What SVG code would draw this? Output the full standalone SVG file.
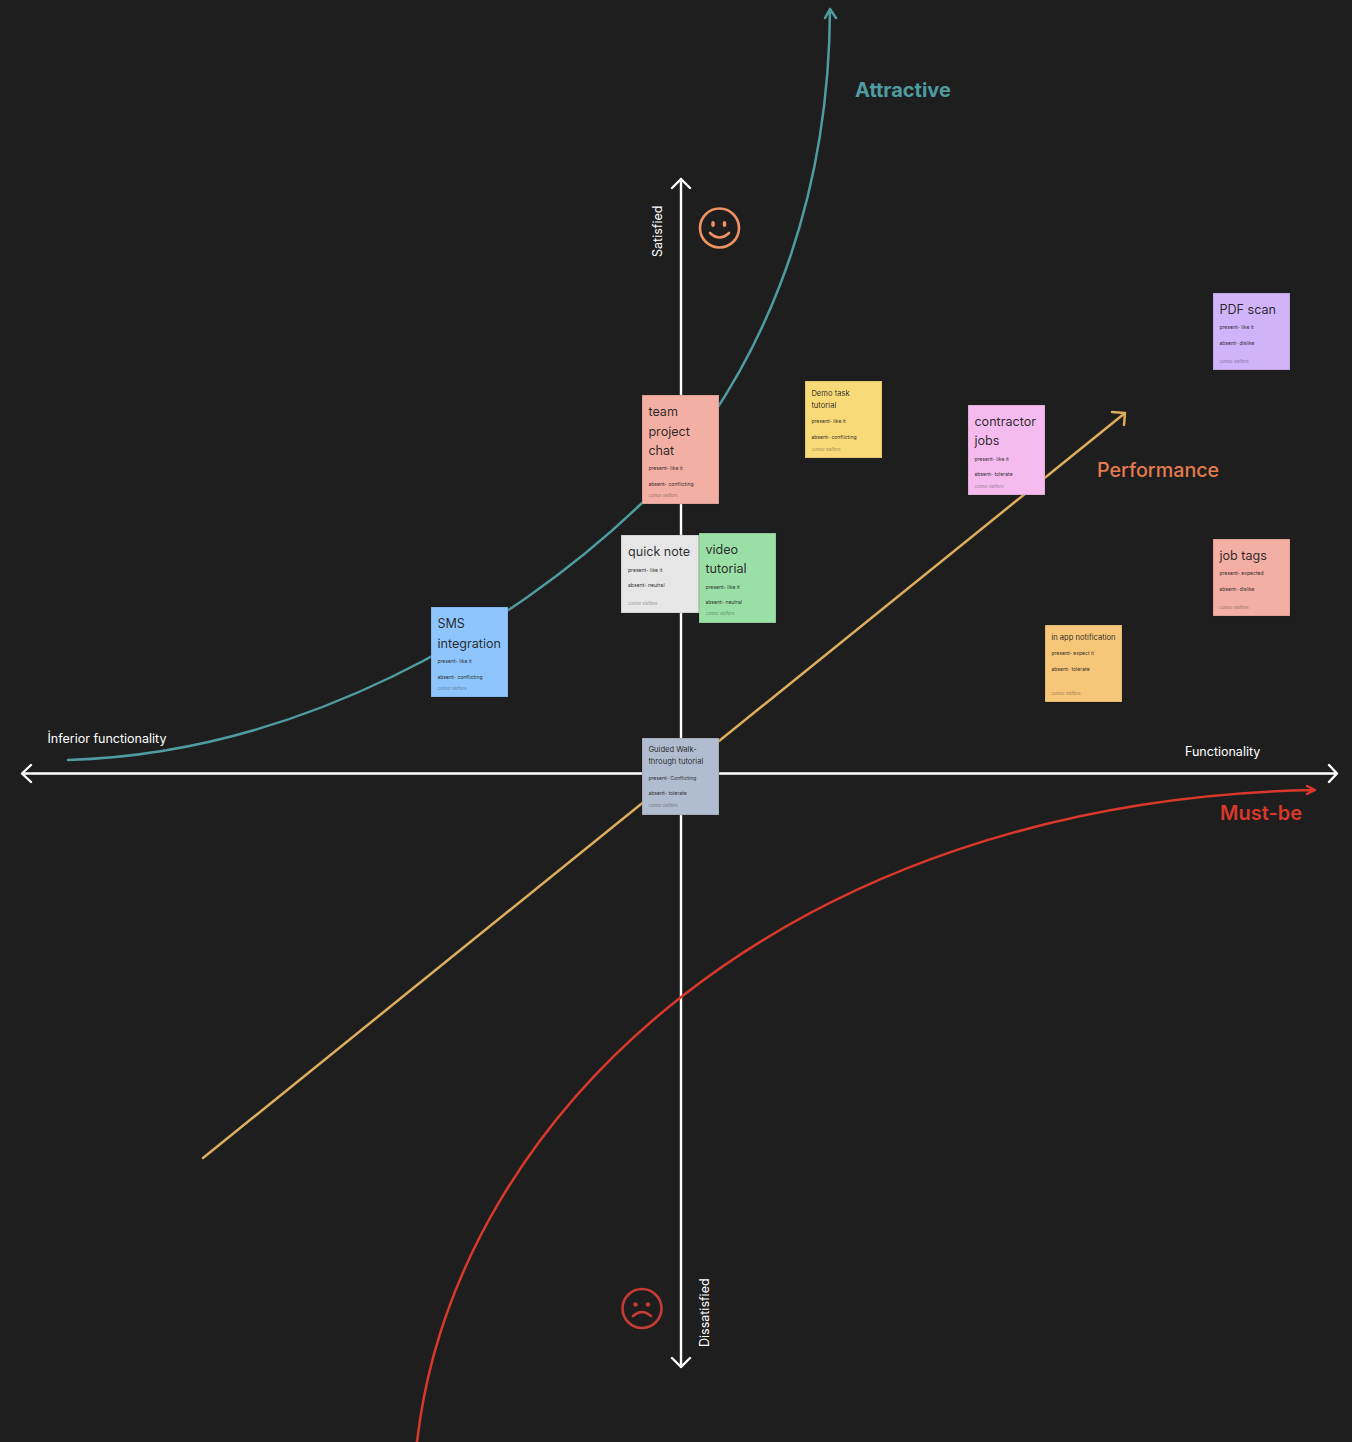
<svg xmlns="http://www.w3.org/2000/svg" width="1352" height="1442" viewBox="0 0 1352 1442">
<style>
text{font-family:Inter,"Liberation Sans",sans-serif}
.ax{fill:none;stroke:#fff;stroke-width:2.400;stroke-linecap:round;stroke-linejoin:round}
.lb{font-size:12.500px;fill:#fff}
.big{font-size:20px;font-weight:600}
.t{font-size:12.600px;fill:#1e1e1e;fill-opacity:.95}
.m{font-size:7.600px;fill:#1e1e1e;fill-opacity:.95}
.s{font-size:5.100px;fill:#1e1e1e;fill-opacity:.95}
.a{font-size:3.800px;fill:#1e1e1e;fill-opacity:.5}
.n{stroke:#1e1e1e;stroke-opacity:.3;stroke-width:.6}
</style>
<rect width="1352" height="1442" fill="#1e1e1e"/>
<g id="connectors">
<path class="ax" d="M22 773.500H1337M31 765L22 773.500L31 782M1329 765L1337 773.500L1329 782"/>
<path class="ax" d="M681 179V1367M672 188L681 179L690 188M672 1358L681 1367L690 1358"/>
<path d="M68 760C300 753 510 630 642 503C760 380 829 210 830 9M825 18L830 9L836 18" fill="none" stroke="#4f9ca0" stroke-width="2.500" stroke-linecap="round" stroke-linejoin="round"/>
<path d="M203 1158L1125 413M1112 412L1125 413L1124 425" fill="none" stroke="#dcad5c" stroke-width="2.500" stroke-linecap="round" stroke-linejoin="round"/>
<path d="M417 1442C455 1110 790 800 1315 790M1307 786L1315 790L1307 794" fill="none" stroke="#d9382a" stroke-width="2.500" stroke-linecap="round" stroke-linejoin="round"/>
</g>
<g id="labels">
<text class="lb" x="47.500" y="743">İnferior functionality</text>
<text class="lb" x="1185" y="755.500">Functionality</text>
<text class="lb" transform="translate(661.500 257) rotate(-90)">Satisfied</text>
<text class="lb" transform="translate(709 1347) rotate(-90)">Dissatisfied</text>
<text class="big" x="855" y="97" fill="#4f9ca0" style="font-weight:700">Attractive</text>
<text class="big" x="1097" y="477" fill="#e57b4e" style="font-weight:500;font-size:19.700px">Performance</text>
<text class="big" x="1220" y="820" fill="#d9382a">Must-be</text>
</g>
<g id="smile" fill="none" stroke="#ee9263" stroke-width="2.600" stroke-linecap="round">
<circle cx="719.500" cy="228" r="19.500"/>
<path d="M710 233Q719.500 242 729 233"/>
<ellipse cx="713" cy="224" rx="1.800" ry="3" fill="#ee9263" stroke="none"/>
<ellipse cx="724.500" cy="224" rx="1.800" ry="3" fill="#ee9263" stroke="none"/>
</g>
<g id="frown" fill="none" stroke="#c43c35" stroke-width="2.600" stroke-linecap="round">
<circle cx="642" cy="1308.500" r="19.500"/>
<path d="M633 1316Q642 1308 651 1316"/>
<circle cx="635.500" cy="1304.500" r="2.300" fill="#c43c35" stroke="none"/>
<circle cx="648" cy="1304.500" r="2.300" fill="#c43c35" stroke="none"/>
</g>
<g id="node-team"><rect class="n" x="642" y="395" width="77" height="109" fill="#f3afa3"/>
<text class="t" x="648.400" y="416">team</text><text class="t" x="648.400" y="436">project</text><text class="t" x="648.400" y="455">chat</text>
<text class="s" x="648.400" y="470">present-  like it</text><text class="s" x="648.400" y="486">absent- conflicting</text><text class="a" x="648.400" y="497">Connor Steffens</text></g>
<g id="node-sms"><rect class="n" x="431" y="607" width="77" height="90" fill="#8ec5fc"/>
<text class="t" x="437.400" y="628">SMS</text><text class="t" x="437.400" y="648">integration</text>
<text class="s" x="437.400" y="663">present-  like it</text><text class="s" x="437.400" y="679">absent- conflicting</text><text class="a" x="437.400" y="690">Connor Steffens</text></g>
<g id="node-quick"><rect class="n" x="621" y="535" width="78" height="78" fill="#e6e6e6"/>
<text class="t" x="628" y="556">quick note</text>
<text class="s" x="628" y="572">present- like it</text><text class="s" x="628" y="587">absent- neutral</text><text class="a" x="628" y="605">Connor Steffens</text></g>
<g id="node-video"><rect class="n" x="699" y="533" width="77" height="90" fill="#9adfa6"/>
<text class="t" x="705.400" y="554">video</text><text class="t" x="705.400" y="573">tutorial</text>
<text class="s" x="705.400" y="589">present- like it</text><text class="s" x="705.400" y="604">absent- neutral</text><text class="a" x="705.400" y="615">Connor Steffens</text></g>
<g id="node-guided"><rect class="n" x="642" y="738" width="77" height="77" fill="#b0bccf"/>
<text class="m" x="648.400" y="752">Guided Walk-</text><text class="m" x="648.400" y="764">through tutorial</text>
<text class="s" x="648.400" y="780">present- Conflicting</text><text class="s" x="648.400" y="795">absent- tolerate</text><text class="a" x="648.400" y="807">Connor Steffens</text></g>
<g id="node-demo"><rect class="n" x="805" y="381" width="77" height="77" fill="#f9da78"/>
<text class="m" x="811.400" y="396">Demo task</text><text class="m" x="811.400" y="408">tutorial</text>
<text class="s" x="811.400" y="423">present- like it</text><text class="s" x="811.400" y="439">absent- conflicting</text><text class="a" x="811.400" y="451">Connor Steffens</text></g>
<g id="node-contractor"><rect class="n" x="968" y="405" width="77" height="90" fill="#f5bbef"/>
<text class="t" x="974.400" y="426">contractor</text><text class="t" x="974.400" y="445">jobs</text>
<text class="s" x="974.400" y="461">present- like it</text><text class="s" x="974.400" y="476">absent- tolerate</text><text class="a" x="974.400" y="488">Connor Steffens</text></g>
<g id="node-pdf"><rect class="n" x="1213" y="293" width="77" height="77" fill="#d0b3f8"/>
<text class="t" x="1219.400" y="314">PDF scan</text>
<text class="s" x="1219.400" y="329">present- like it</text><text class="s" x="1219.400" y="345">absent- dislike</text><text class="a" x="1219.400" y="363">Connor Steffens</text></g>
<g id="node-jobtags"><rect class="n" x="1213" y="539" width="77" height="77" fill="#f3afa3"/>
<text class="t" x="1219.400" y="560">job tags</text>
<text class="s" x="1219.400" y="575">present- expected</text><text class="s" x="1219.400" y="591">absent- dislike</text><text class="a" x="1219.400" y="609">Connor Steffens</text></g>
<g id="node-inapp"><rect class="n" x="1045" y="625" width="77" height="77" fill="#f6c679"/>
<text class="m" x="1051.400" y="640">in app notification</text>
<text class="s" x="1051.400" y="655">present- expect it</text><text class="s" x="1051.400" y="671">absent- tolerate</text><text class="a" x="1051.400" y="695">Connor Steffens</text></g>
</svg>
